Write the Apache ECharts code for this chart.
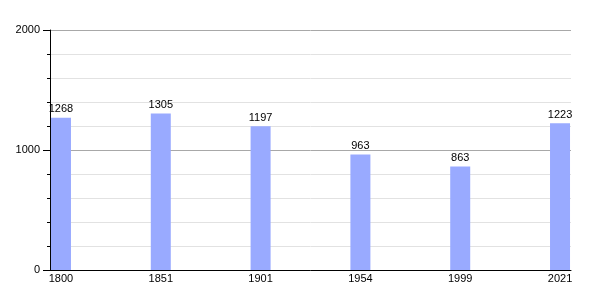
<!DOCTYPE html>
<html>
<head>
<meta charset="utf-8">
<script src="https://cdn.jsdelivr.net/npm/echarts@6/dist/echarts.min.js"></script>
<style>html,body{margin:0;padding:0;background:#fff}#c{width:600px;height:300px}</style>
</head>
<body>
<div id="c"></div>
<script>
const years = ['1800', '1851', '1901', '1954', '1999', '2021'];
const population = [1268, 1305, 1197, 963, 863, 1223];
const yTicks = [0, 1000, 2000];

const chart = echarts.init(document.getElementById('c'), null, {renderer: 'canvas'});
const font = 'Liberation Sans, Arial, sans-serif';
chart.setOption({
  animation: false,
  backgroundColor: '#ffffff',
  grid: {left: 50, right: 29, top: 30, bottom: 30},
  xAxis: {
    type: 'value',
    min: -0.11,
    max: 5.11,
    axisLine: {show: true, onZero: false, lineStyle: {color: '#000', width: 1}},
    axisTick: {show: false},
    splitLine: {show: false},
    axisLabel: {
      customValues: years.map((y, i) => i),
      formatter: v => years[Math.round(v)],
      color: '#000', fontSize: 11, fontFamily: font, margin: 3
    }
  },
  yAxis: {
    type: 'value',
    min: yTicks[0],
    max: yTicks[yTicks.length - 1],
    interval: 1000,
    axisLine: {show: true, onZero: false, lineStyle: {color: '#000', width: 1}},
    axisTick: {show: true, length: 7, lineStyle: {color: '#000'}},
    minorTick: {show: true, splitNumber: 5, length: 3, lineStyle: {color: '#000'}},
    splitLine: {show: true, lineStyle: {color: '#a8a8a8', width: 1}},
    minorSplitLine: {show: true, lineStyle: {color: '#e2e2e2', width: 1}},
    axisLabel: {color: '#000', fontSize: 11, fontFamily: font, margin: 10, formatter: v => String(v)}
  },
  series: [{
    type: 'bar',
    barWidth: 20,
    data: population.map((v, i) => [i, v]),
    itemStyle: {color: '#99aaff'},
    label: {
      show: true, position: 'top', distance: 3,
      color: '#000', fontSize: 11, fontFamily: font,
      formatter: p => p.value[1]
    }
  }]
});
</script>
</body>
</html>
